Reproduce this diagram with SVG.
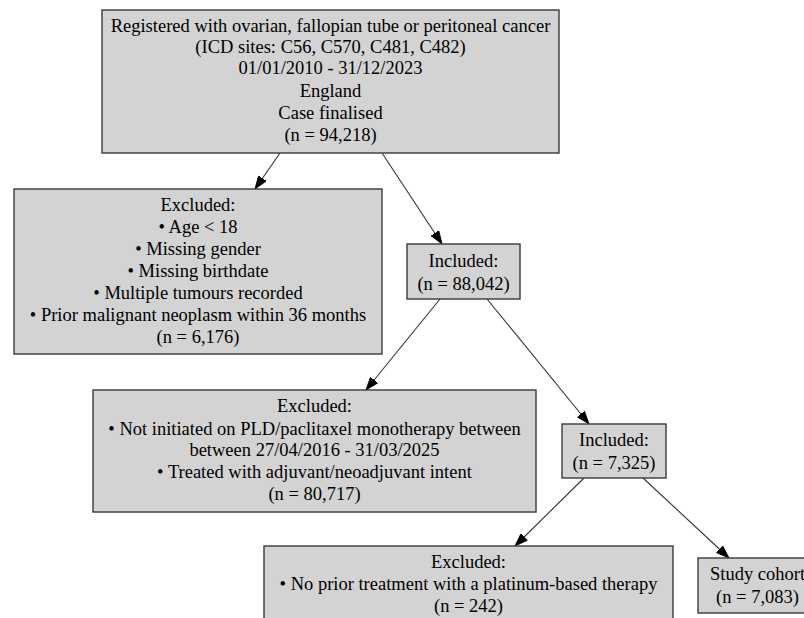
<svg xmlns="http://www.w3.org/2000/svg" width="804" height="618" viewBox="0 0 804 618">
<style>
.box{fill:#d3d3d3;stroke:#3a3a3a;stroke-width:1.4}
text{font-family:"Liberation Serif","Times New Roman",serif;font-size:18.5px;fill:#000;text-anchor:middle}
.edge{stroke:#333;stroke-width:1.1;fill:none}
</style>
<defs>
<marker id="ah" markerUnits="userSpaceOnUse" markerWidth="14" markerHeight="10" refX="13" refY="5" orient="auto">
<path d="M0,0.3 L13,5 L0,9.7 z" fill="#000" stroke="#000" stroke-width="0.8"/>
</marker>
</defs>
<rect width="804" height="618" fill="#fff"/>
<g id="connectors">
<line class="edge" x1="280" y1="153" x2="255" y2="189" marker-end="url(#ah)"/>
<line class="edge" x1="382" y1="153" x2="442" y2="244" marker-end="url(#ah)"/>
<line class="edge" x1="440" y1="299" x2="366" y2="390" marker-end="url(#ah)"/>
<line class="edge" x1="487" y1="299" x2="589" y2="424" marker-end="url(#ah)"/>
<line class="edge" x1="584" y1="478" x2="515" y2="546" marker-end="url(#ah)"/>
<line class="edge" x1="643" y1="478" x2="729" y2="558" marker-end="url(#ah)"/>
</g>
<g id="registered">
<rect class="box" x="102" y="10" width="457" height="143"/>
<text x="330.5" y="32">Registered with ovarian, fallopian tube or peritoneal cancer</text>
<text x="330.5" y="53">(ICD sites: C56, C570, C481, C482)</text>
<text x="330.5" y="74">01/01/2010 - 31/12/2023</text>
<text x="330.5" y="97">England</text>
<text x="330.5" y="119">Case finalised</text>
<text x="330.5" y="141">(n = 94,218)</text>
</g>
<g id="excluded1">
<rect class="box" x="14" y="189" width="368" height="165"/>
<text x="198" y="211">Excluded:</text>
<text x="198" y="233">• Age &lt; 18</text>
<text x="198" y="255">• Missing gender</text>
<text x="198" y="277">• Missing birthdate</text>
<text x="198" y="299">• Multiple tumours recorded</text>
<text x="198" y="321">• Prior malignant neoplasm within 36 months</text>
<text x="198" y="343">(n = 6,176)</text>
</g>
<g id="included1">
<rect class="box" x="407" y="244" width="113" height="55"/>
<text x="463.5" y="267">Included:</text>
<text x="463.5" y="290">(n = 88,042)</text>
</g>
<g id="excluded2">
<rect class="box" x="93" y="390" width="443" height="122"/>
<text x="314.5" y="412">Excluded:</text>
<text x="314.5" y="435">• Not initiated on PLD/paclitaxel monotherapy between</text>
<text x="314.5" y="456">between 27/04/2016 - 31/03/2025</text>
<text x="314.5" y="478">• Treated with adjuvant/neoadjuvant intent</text>
<text x="314.5" y="500">(n = 80,717)</text>
</g>
<g id="included2">
<rect class="box" x="562" y="424" width="104" height="54"/>
<text x="614" y="446">Included:</text>
<text x="614" y="469">(n = 7,325)</text>
</g>
<g id="excluded3">
<rect class="box" x="264" y="546" width="409" height="78"/>
<text x="468.5" y="568">Excluded:</text>
<text x="468.5" y="590">• No prior treatment with a platinum-based therapy</text>
<text x="468.5" y="612">(n = 242)</text>
</g>
<g id="study">
<rect class="box" x="698" y="558" width="119" height="55"/>
<text x="757.5" y="580">Study cohort</text>
<text x="757.5" y="603">(n = 7,083)</text>
</g>
</svg>
